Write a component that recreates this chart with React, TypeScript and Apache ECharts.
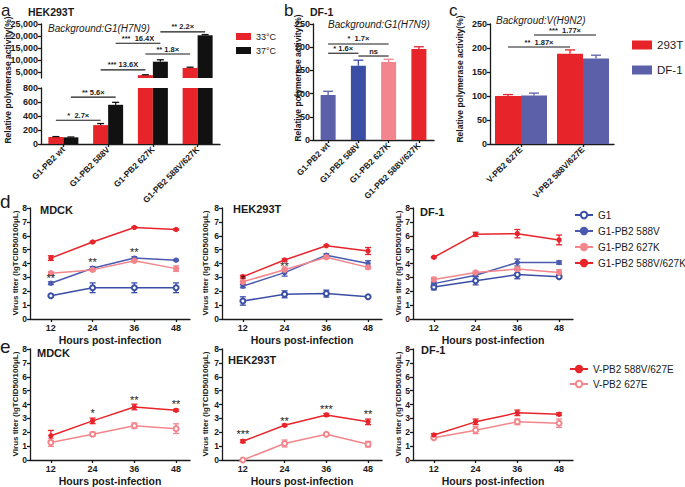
import React, { useEffect, useRef } from 'react';
import * as echarts from 'echarts';

const FONT = '"Liberation Sans", Arial, Helvetica, sans-serif';
const RED = '#e8242b';
const BLACK = '#111111';
const SLATE = '#5b60a9';
const BLUE = '#3b4ea6';
const LBLUE = '#4a5ab0';
const PINK = '#f3868c';
const INK = '#1a1a1a';

// ---------- panel a (HEK293T, broken axis) ----------
const aCategories = ['G1-PB2 wt', 'G1-PB2 588V', 'G1-PB2 627K', 'G1-PB2 588V/627K'];
const a33 = [100, 270, 3700, 6700];
const a33Err = [6, 22, 150, 300];
const a37 = [95, 560, 9300, 20300];
const a37Err = [5, 35, 800, 300];
const aUpperTicks = [5000, 10000, 15000, 20000, 25000];
// [fromCategory, fromSeries, toCategory, toSeries, value]
const aLowerBrackets = [[0, 0, 1, 0, 340], [0, 1, 1, 1, 670]];
const aLowerBracketText = ['*  2.7×', '** 5.6×'];
const aUpperBrackets = [[1, 0, 2, 0, 5900], [1, 1, 2, 1, 17000], [2, 0, 3, 0, 12500], [2, 1, 3, 1, 21700]];
const aUpperBracketText = ['*** 13.6X', '***  16.4X', '** 1.8×', '** 2.2×'];

// ---------- panel b (DF-1) ----------
const bValues = [97, 160, 168, 196];
const bErr = [8, 12, 6, 5];
const bColors = [SLATE, BLUE, PINK, RED];
const bBrackets = [[0, 0, 2, 0, 207], [0, 0, 1, 0, 187], [1, 0, 2, 0, 181]];
const bBracketText = ['*  1.7×', '* 1.6×', 'ns'];

// ---------- panel c ----------
const cCategories = ['V-PB2 627E', 'V-PB2 588V/627E'];
const c293T = [100, 188];
const c293TErr = [3, 8];
const cDF1 = [101, 178];
const cDF1Err = [5, 7];
const cBrackets = [[0, 0, 1, 0, 202], [0, 1, 1, 1, 227]];
const cBracketText = ['**  1.87×', '***  1.77×'];

// ---------- panels d / e ----------
const hours = [12, 24, 36, 48];

const dMdckG1 = [1.68, 2.25, 2.25, 2.25];
const dMdckG1Err = [0.06, 0.35, 0.35, 0.35];
const dMdck588V = [2.58, 3.66, 4.39, 4.24];
const dMdck588VErr = [0.1, 0.12, 0.1, 0.05];
const dMdck627K = [3.3, 3.54, 4.2, 3.63];
const dMdck627KErr = [0.1, 0.08, 0.1, 0.2];
const dMdckDouble = [4.39, 5.55, 6.6, 6.45];
const dMdckDoubleErr = [0.17, 0.05, 0.05, 0.05];
const dMdckStars = [[12, 2.95], [24, 4.1], [36, 4.82]];
const dMdckStarText = ['**', '**', '**'];

const dHekG1 = [1.3, 1.78, 1.83, 1.6];
const dHekG1Err = [0.3, 0.25, 0.25, 0.05];
const dHek588V = [2.37, 3.34, 4.6, 4.0];
const dHek588VErr = [0.12, 0.25, 0.1, 0.2];
const dHek627K = [2.68, 3.55, 4.45, 3.72];
const dHek627KErr = [0.12, 0.2, 0.1, 0.1];
const dHekDouble = [3.05, 4.25, 5.28, 4.9];
const dHekDoubleErr = [0.1, 0.08, 0.05, 0.25];
const dHekStars = [[12, 2.9], [24, 3.85]];
const dHekStarText = ['*', '**'];

const dDfG1 = [2.3, 2.76, 3.2, 3.05];
const dDfG1Err = [0.2, 0.3, 0.3, 0.1];
const dDf588V = [2.55, 3.15, 4.07, 4.07];
const dDf588VErr = [0.1, 0.1, 0.25, 0.12];
const dDf627K = [2.85, 3.35, 3.6, 3.35];
const dDf627KErr = [0.15, 0.1, 0.1, 0.2];
const dDfDouble = [4.45, 6.1, 6.15, 5.7];
const dDfDoubleErr = [0.05, 0.15, 0.3, 0.35];

const eMdckDouble = [1.75, 2.82, 3.82, 3.58];
const eMdckDoubleErr = [0.38, 0.2, 0.2, 0.08];
const eMdck627E = [1.26, 1.86, 2.47, 2.26];
const eMdck627EErr = [0.28, 0.15, 0.2, 0.35];
const eMdckStars = [[24, 3.4], [36, 4.36], [48, 4.05]];
const eMdckStarText = ['*', '**', '**'];

const eHekDouble = [1.35, 2.5, 3.25, 2.75];
const eHekDoubleErr = [0.1, 0.08, 0.1, 0.2];
const eHek627E = [0, 1.19, 1.86, 1.14];
const eHek627EErr = [0, 0.25, 0.05, 0.2];
const eHekStars = [[12, 1.86], [24, 2.81], [36, 3.64], [48, 3.29]];
const eHekStarText = ['***', '**', '***', '**'];

const eDfDouble = [1.8, 2.75, 3.4, 3.3];
const eDfDoubleErr = [0.1, 0.2, 0.2, 0.1];
const eDf627E = [1.6, 2.15, 2.75, 2.65];
const eDf627EErr = [0.05, 0.25, 0.2, 0.3];

// ---------- helpers ----------
const lineW = 1.3;
const axisLineStyle = { show: true, onZero: false, lineStyle: { color: INK, width: lineW } };
const tickStyle = { show: true, length: 3, inside: false, lineStyle: { color: INK, width: lineW } };
const labelStyle = { color: INK, fontFamily: FONT, fontWeight: 'bold', fontSize: 9, margin: 3 };

function errorSeries(grid: number, rows: number[][], color: string | string[], offset: number, cap: number, upOnly: boolean) {
  return {
    type: 'custom',
    xAxisIndex: grid,
    yAxisIndex: grid,
    silent: true,
    z: 4,
    data: rows,
    renderItem: (params: any, api: any) => {
      const x = api.value(0);
      const v = api.value(1);
      const e = api.value(2);
      const pv = api.coord([x, v]);
      const pt = api.coord([x, v + e]);
      const pb = api.coord([x, v - e]);
      const c = typeof color === 'string' ? color : color[params.dataIndex];
      const cx = pv[0] + offset;
      const st = { stroke: c, lineWidth: 1.3 };
      const children: any[] = [
        { type: 'line', shape: { x1: cx, y1: upOnly ? pv[1] : pb[1], x2: cx, y2: pt[1] }, style: st },
        { type: 'line', shape: { x1: cx - cap, y1: pt[1], x2: cx + cap, y2: pt[1] }, style: st },
      ];
      if (!upOnly) children.push({ type: 'line', shape: { x1: cx - cap, y1: pb[1], x2: cx + cap, y2: pb[1] }, style: st });
      return { type: 'group', children };
    },
  };
}

function bracketSeries(grid: number, rows: number[][], texts: string[], barW: number, nSub: number) {
  return {
    type: 'custom',
    xAxisIndex: grid,
    yAxisIndex: grid,
    silent: true,
    z: 6,
    data: rows,
    renderItem: (params: any, api: any) => {
      const off = (s: number) => (nSub === 1 ? 0 : (s - (nSub - 1) / 2) * barW);
      const p1 = api.coord([api.value(0), api.value(4)]);
      const p2 = api.coord([api.value(2), api.value(4)]);
      const x1 = p1[0] + off(api.value(1));
      const x2 = p2[0] + off(api.value(3));
      return {
        type: 'group',
        children: [
          { type: 'line', shape: { x1, y1: p1[1], x2, y2: p1[1] }, style: { stroke: INK, lineWidth: 1.1 } },
          {
            type: 'text',
            x: (x1 + x2) / 2,
            y: p1[1] - 1,
            style: { text: texts[params.dataIndex], fill: INK, fontFamily: FONT, fontWeight: 'bold', fontSize: 7.5, align: 'center', verticalAlign: 'bottom' },
          },
        ],
      };
    },
  };
}

function starSeries(grid: number, rows: number[][], texts: string[]) {
  return {
    type: 'custom',
    xAxisIndex: grid,
    yAxisIndex: grid,
    silent: true,
    z: 6,
    data: rows,
    renderItem: (params: any, api: any) => {
      const p = api.coord([api.value(0), api.value(1)]);
      return {
        type: 'text',
        x: p[0],
        y: p[1],
        style: { text: texts[params.dataIndex], fill: INK, fontFamily: FONT, fontSize: 11, align: 'center', verticalAlign: 'middle' },
      };
    },
  };
}

function lineSeries(grid: number, name: string, values: number[], color: string, symbol: string, size: number) {
  return {
    type: 'line',
    name,
    xAxisIndex: grid,
    yAxisIndex: grid,
    data: hours.map((h, i) => [h, values[i]]),
    symbol,
    symbolSize: size,
    showSymbol: true,
    lineStyle: { color, width: 1.5 },
    itemStyle: { color, borderColor: color, borderWidth: 1.3 },
    z: 5,
  };
}

const errRows = (vals: number[], errs: number[]) => hours.map((h, i) => [h, vals[i], errs[i]]);

function lineXAxis(grid: number) {
  return {
    type: 'value',
    gridIndex: grid,
    min: 6,
    max: 52,
    splitLine: { show: false },
    axisLine: axisLineStyle,
    axisTick: { ...tickStyle, customValues: hours },
    axisLabel: { ...labelStyle, fontSize: 9, customValues: hours, margin: 4 },
    name: 'Hours post-infection',
    nameLocation: 'middle',
    nameGap: 15,
    nameTextStyle: { color: INK, fontFamily: FONT, fontWeight: 'bold', fontSize: 10.5 },
  };
}

function lineYAxis(grid: number) {
  return {
    type: 'value',
    gridIndex: grid,
    min: 0,
    max: 8,
    interval: 1,
    splitLine: { show: false },
    axisLine: axisLineStyle,
    axisTick: tickStyle,
    axisLabel: { ...labelStyle, fontSize: 8.5 },
  };
}

function buildOption() {
  const grids = [
    { left: 41, top: 24, width: 179, height: 54 }, // 0 a upper
    { left: 41, top: 88, width: 179, height: 56 }, // 1 a lower
    { left: 313, top: 24, width: 121, height: 116 }, // 2 b
    { left: 490, top: 24, width: 124, height: 120 }, // 3 c
    { left: 30, top: 208, width: 160, height: 111 }, // 4 d MDCK
    { left: 222, top: 208, width: 160, height: 111 }, // 5 d HEK
    { left: 413, top: 208, width: 160, height: 111 }, // 6 d DF-1
    { left: 30, top: 349, width: 160, height: 112 }, // 7 e MDCK
    { left: 222, top: 349, width: 160, height: 112 }, // 8 e HEK
    { left: 413, top: 349, width: 160, height: 112 }, // 9 e DF-1
  ];

  const catLabel = { ...labelStyle, fontSize: 8.5, rotate: 45, interval: 0, margin: 4 };

  const xAxis: any[] = [
    { type: 'category', gridIndex: 0, data: aCategories, axisLine: { show: false }, axisTick: { show: false }, axisLabel: { show: false } },
    { type: 'category', gridIndex: 1, data: aCategories, axisLine: axisLineStyle, axisTick: { ...tickStyle, alignWithLabel: true }, axisLabel: catLabel },
    { type: 'category', gridIndex: 2, data: aCategories, axisLine: axisLineStyle, axisTick: { ...tickStyle, alignWithLabel: true }, axisLabel: catLabel },
    { type: 'category', gridIndex: 3, data: cCategories, axisLine: axisLineStyle, axisTick: { ...tickStyle, alignWithLabel: true }, axisLabel: catLabel },
    lineXAxis(4), lineXAxis(5), lineXAxis(6), lineXAxis(7), lineXAxis(8), lineXAxis(9),
  ];

  const yAxis: any[] = [
    {
      type: 'value', gridIndex: 0, min: 2500, max: 25000, splitLine: { show: false },
      axisLine: axisLineStyle,
      axisTick: { ...tickStyle, customValues: aUpperTicks },
      axisLabel: { ...labelStyle, customValues: aUpperTicks },
    },
    {
      type: 'value', gridIndex: 1, min: 0, max: 800, interval: 200, splitLine: { show: false },
      axisLine: axisLineStyle, axisTick: tickStyle, axisLabel: labelStyle,
    },
    {
      type: 'value', gridIndex: 2, min: 0, max: 250, interval: 50, splitLine: { show: false },
      axisLine: axisLineStyle, axisTick: tickStyle, axisLabel: labelStyle,
    },
    {
      type: 'value', gridIndex: 3, min: 0, max: 250, interval: 50, splitLine: { show: false },
      axisLine: axisLineStyle, axisTick: tickStyle, axisLabel: labelStyle,
    },
    lineYAxis(4), lineYAxis(5), lineYAxis(6), lineYAxis(7), lineYAxis(8), lineYAxis(9),
  ];

  const aBarW = 15;
  const cBarW = 26;
  const series: any[] = [];

  // panel a bars on both segments
  [0, 1].forEach((g) => {
    series.push({ type: 'bar', name: '33°C', xAxisIndex: g, yAxisIndex: g, data: a33, barWidth: aBarW, barGap: '0%', itemStyle: { color: RED }, clip: true, z: 2 });
    series.push({ type: 'bar', name: '37°C', xAxisIndex: g, yAxisIndex: g, data: a37, barWidth: aBarW, barGap: '0%', itemStyle: { color: BLACK }, clip: true, z: 2 });
  });
  const aRows33 = a33.map((v, i) => [i, v, a33Err[i]]);
  const aRows37 = a37.map((v, i) => [i, v, a37Err[i]]);
  series.push(errorSeries(0, aRows33.filter((r) => r[1] > 2500), BLACK, -aBarW / 2, 3.5, true));
  series.push(errorSeries(0, aRows37.filter((r) => r[1] > 2500), BLACK, aBarW / 2, 3.5, true));
  series.push(errorSeries(1, aRows33.filter((r) => r[1] + r[2] < 800), BLACK, -aBarW / 2, 3.5, true));
  series.push(errorSeries(1, aRows37.filter((r) => r[1] + r[2] < 800), BLACK, aBarW / 2, 3.5, true));
  series.push(bracketSeries(1, aLowerBrackets, aLowerBracketText, aBarW, 2));
  series.push(bracketSeries(0, aUpperBrackets, aUpperBracketText, aBarW, 2));

  // panel b
  series.push({
    type: 'bar', name: 'DF-1 activity', xAxisIndex: 2, yAxisIndex: 2, barWidth: 15,
    data: bValues.map((v, i) => ({ value: v, itemStyle: { color: bColors[i] } })), z: 2,
  });
  series.push(errorSeries(2, bValues.map((v, i) => [i, v, bErr[i]]), bColors, 0, 5, true));
  series.push(bracketSeries(2, bBrackets, bBracketText, 15, 1));

  // panel c
  series.push({ type: 'bar', name: '293T', xAxisIndex: 3, yAxisIndex: 3, data: c293T, barWidth: cBarW, barGap: '0%', itemStyle: { color: RED }, z: 2 });
  series.push({ type: 'bar', name: 'DF-1', xAxisIndex: 3, yAxisIndex: 3, data: cDF1, barWidth: cBarW, barGap: '0%', itemStyle: { color: SLATE }, z: 2 });
  series.push(errorSeries(3, c293T.map((v, i) => [i, v, c293TErr[i]]), RED, -cBarW / 2, 5, true));
  series.push(errorSeries(3, cDF1.map((v, i) => [i, v, cDF1Err[i]]), SLATE, cBarW / 2, 5, true));
  series.push(bracketSeries(3, cBrackets, cBracketText, cBarW, 2));

  // panel d
  const dSets = [
    { g: 4, g1: [dMdckG1, dMdckG1Err], v: [dMdck588V, dMdck588VErr], k: [dMdck627K, dMdck627KErr], vk: [dMdckDouble, dMdckDoubleErr] },
    { g: 5, g1: [dHekG1, dHekG1Err], v: [dHek588V, dHek588VErr], k: [dHek627K, dHek627KErr], vk: [dHekDouble, dHekDoubleErr] },
    { g: 6, g1: [dDfG1, dDfG1Err], v: [dDf588V, dDf588VErr], k: [dDf627K, dDf627KErr], vk: [dDfDouble, dDfDoubleErr] },
  ];
  dSets.forEach((s) => {
    series.push(lineSeries(s.g, 'G1', s.g1[0], BLUE, 'emptyCircle', 5));
    series.push(lineSeries(s.g, 'G1-PB2 588V', s.v[0], LBLUE, 'circle', 4));
    series.push(lineSeries(s.g, 'G1-PB2 627K', s.k[0], PINK, 'circle', 5));
    series.push(lineSeries(s.g, 'G1-PB2 588V/627K', s.vk[0], RED, 'circle', 4));
    series.push(errorSeries(s.g, errRows(s.g1[0], s.g1[1]), BLUE, 0, 3, false));
    series.push(errorSeries(s.g, errRows(s.v[0], s.v[1]), LBLUE, 0, 3, false));
    series.push(errorSeries(s.g, errRows(s.k[0], s.k[1]), PINK, 0, 3, false));
    series.push(errorSeries(s.g, errRows(s.vk[0], s.vk[1]), RED, 0, 3, false));
  });
  series.push(starSeries(4, dMdckStars, dMdckStarText));
  series.push(starSeries(5, dHekStars, dHekStarText));

  // panel e
  const eSets = [
    { g: 7, vk: [eMdckDouble, eMdckDoubleErr], e: [eMdck627E, eMdck627EErr] },
    { g: 8, vk: [eHekDouble, eHekDoubleErr], e: [eHek627E, eHek627EErr] },
    { g: 9, vk: [eDfDouble, eDfDoubleErr], e: [eDf627E, eDf627EErr] },
  ];
  eSets.forEach((s) => {
    series.push(lineSeries(s.g, 'V-PB2 627E', s.e[0], PINK, 'emptyCircle', 5));
    series.push(lineSeries(s.g, 'V-PB2 588V/627E', s.vk[0], RED, 'circle', 4));
    series.push(errorSeries(s.g, errRows(s.e[0], s.e[1]), PINK, 0, 3, false));
    series.push(errorSeries(s.g, errRows(s.vk[0], s.vk[1]), RED, 0, 3, false));
  });
  series.push(starSeries(7, eMdckStars, eMdckStarText));
  series.push(starSeries(8, eHekStars, eHekStarText));

  const legendText = { color: INK, fontFamily: FONT };
  const legend: any[] = [
    { data: ['33°C', '37°C'], left: 231, top: 27, orient: 'vertical', icon: 'rect', itemWidth: 15, itemHeight: 7, itemGap: 5, selectedMode: false, textStyle: { ...legendText, fontSize: 9 } },
    { data: ['293T', 'DF-1'], left: 627, top: 34, orient: 'vertical', icon: 'rect', itemWidth: 20, itemHeight: 9, itemGap: 13, selectedMode: false, textStyle: { ...legendText, fontSize: 11.5 } },
    { data: ['G1', 'G1-PB2 588V', 'G1-PB2 627K', 'G1-PB2 588V/627K'], left: 569, top: 205, orient: 'vertical', itemWidth: 18, itemHeight: 8, itemGap: 6, itemStyle: {}, selectedMode: false, textStyle: { ...legendText, fontSize: 10 } },
    { data: ['V-PB2 588V/627E', 'V-PB2 627E'], left: 564, top: 359, orient: 'vertical', itemWidth: 18, itemHeight: 8, itemGap: 5, selectedMode: false, textStyle: { ...legendText, fontSize: 10 } },
  ];

  const txt = (text: string, x: number, y: number, size: number, weight: string, extra: any = {}) => ({
    type: 'text', x, y, silent: true,
    style: { text, fill: INK, fontFamily: FONT, fontSize: size, fontWeight: weight, align: 'left', verticalAlign: 'middle', ...extra },
  });
  const vtxt = (text: string, x: number, y: number, size: number) => ({
    type: 'text', x, y, rotation: Math.PI / 2, silent: true,
    style: { text, fill: INK, fontFamily: FONT, fontSize: size, fontWeight: 'bold', align: 'center', verticalAlign: 'middle' },
  });
  const yTitle = 'Relative polymerase activity(%)';
  const vTitle = 'Virus titer (lgTCID50/100μL)';

  const graphic = {
    elements: [
      txt('a', 1, 10, 17, 'normal'),
      txt('HEK293T', 28, 12, 10.5, 'bold'),
      txt('Background:G1(H7N9)', 48, 28, 10, 'normal', { fontStyle: 'italic' }),
      txt('b', 284, 10, 17, 'normal'),
      txt('DF-1', 310, 12, 10.5, 'bold'),
      txt('Background:G1(H7N9)', 328, 24, 10, 'normal', { fontStyle: 'italic' }),
      txt('c', 449, 10, 17, 'normal'),
      txt('Backgroud:V(H9N2)', 496, 20, 10, 'normal', { fontStyle: 'italic' }),
      vtxt(yTitle, 8, 80, 8.5),
      vtxt(yTitle, 298, 78, 8.5),
      vtxt(yTitle, 460, 79, 8.5),
      txt('d', 0, 201, 19, 'normal'),
      txt('e', 0, 346, 19, 'normal'),
      txt('MDCK', 40, 210, 11, 'bold'),
      txt('HEK293T', 233, 209, 11, 'bold'),
      txt('DF-1', 420, 212, 11, 'bold'),
      txt('MDCK', 37, 353, 11, 'bold'),
      txt('HEK293T', 228, 360, 11, 'bold'),
      txt('DF-1', 421, 350, 11, 'bold'),
      vtxt(vTitle, 15, 263, 8),
      vtxt(vTitle, 205, 263, 8),
      vtxt(vTitle, 398, 263, 8),
      vtxt(vTitle, 15, 404, 8),
      vtxt(vTitle, 205, 404, 8),
      vtxt(vTitle, 398, 404, 8),
    ],
  };

  return {
    animation: false,
    backgroundColor: '#ffffff',
    textStyle: { fontFamily: FONT },
    grid: grids.map((g) => ({ ...g, containLabel: false })),
    xAxis,
    yAxis,
    series,
    legend,
    graphic,
  };
}

export default function App() {
  const ref = useRef<HTMLDivElement>(null);
  useEffect(() => {
    if (!ref.current) return;
    const chart = echarts.init(ref.current, null, { renderer: 'svg' });
    chart.setOption(buildOption() as any);
    return () => chart.dispose();
  }, []);
  return <div ref={ref} style={{ position: 'absolute', left: 0, top: 0, width: 685, height: 487, background: '#fff' }} />;
}
